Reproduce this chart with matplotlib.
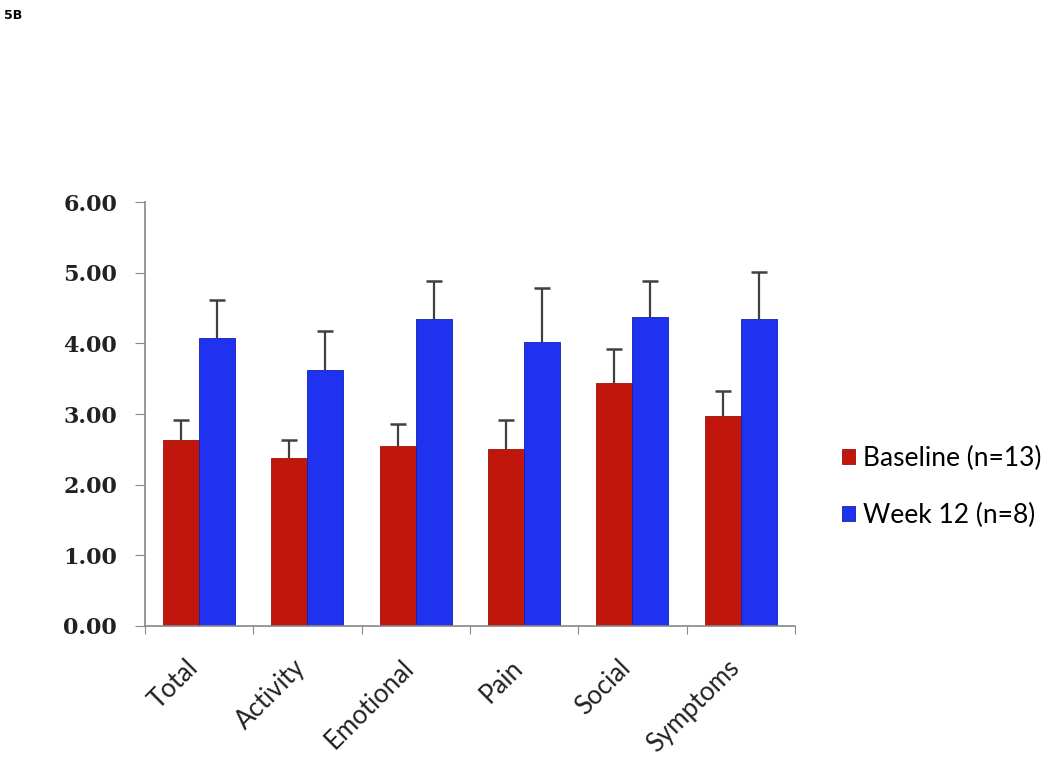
import numpy as np
import matplotlib
matplotlib.use('Agg')
from matplotlib import pyplot as plt

categories = ['Total', 'Activity', 'Emotional', 'Pain', 'Social', 'Symptoms']
baseline = [2.63, 2.38, 2.55, 2.50, 3.44, 2.97]
baseline_err = [0.28, 0.25, 0.31, 0.41, 0.48, 0.35]
week12 = [4.07, 3.63, 4.34, 4.02, 4.37, 4.34]
week12_err = [0.54, 0.54, 0.55, 0.76, 0.52, 0.67]
yticks = [0, 1, 2, 3, 4, 5, 6]

fig = plt.figure(figsize=(10.5, 7.66), dpi=100)
ax = fig.add_axes([0.138, 0.183, 0.619, 0.553])

x = np.arange(len(categories))
w = 0.333
ax.bar(x - w/2, baseline, w, color='#c0160c', edgecolor='#9a1208', linewidth=0.6,
       label='Baseline (n=13)', zorder=2)
ax.bar(x + w/2, week12, w, color='#1f32f0', edgecolor='#1020b0', linewidth=0.6,
       label='Week 12 (n=8)', zorder=2)

# upper-only error bars
for xs, vals, errs in [(x - w/2, baseline, baseline_err), (x + w/2, week12, week12_err)]:
    tops = np.array(vals) + np.array(errs)
    ax.vlines(xs, vals, tops, color='#404040', linewidth=1.6, zorder=3)
    ax.plot(xs, tops, ls='none', marker='_', markersize=12, markeredgewidth=1.8,
            color='#404040', zorder=3)

ax.set_xlim(-0.5, len(categories) - 0.5)
ax.set_ylim(0, 6)
ax.set_yticks(yticks)
ax.set_yticklabels([f'{v:.2f}' for v in yticks], family='DejaVu Serif',
                   fontsize=16, fontweight='bold', color='#222222')
ax.set_xticks(np.arange(len(categories) + 1) - 0.5)
ax.set_xticklabels([])
ax.set_xticks(x, minor=True)
ax.set_xticklabels(categories, minor=True, rotation=45, ha='right', va='baseline',
                   rotation_mode='anchor', family='Lato', fontsize=18.5, color='#222222')
ax.tick_params(axis='x', which='minor', length=0, pad=31)
ax.tick_params(axis='x', which='major', length=6, color='#888888', direction='out')
ax.tick_params(axis='y', length=7, color='#888888', direction='out', pad=13)
for s in ['top', 'right']:
    ax.spines[s].set_visible(False)
for s in ['left', 'bottom']:
    ax.spines[s].set_color('#888888')
    ax.spines[s].set_linewidth(1.2)

ax.legend(loc='center left', bbox_to_anchor=(1.036, 0.328), frameon=False,
          prop={'family': 'Lato', 'size': 19}, handlelength=0.5,
          handleheight=0.5, handletextpad=0.3, labelspacing=1.2)

fig.text(0.004, 0.988, '5B', fontsize=9, fontweight='bold', family='DejaVu Sans', va='top')

fig.savefig('out.png', dpi=100)
